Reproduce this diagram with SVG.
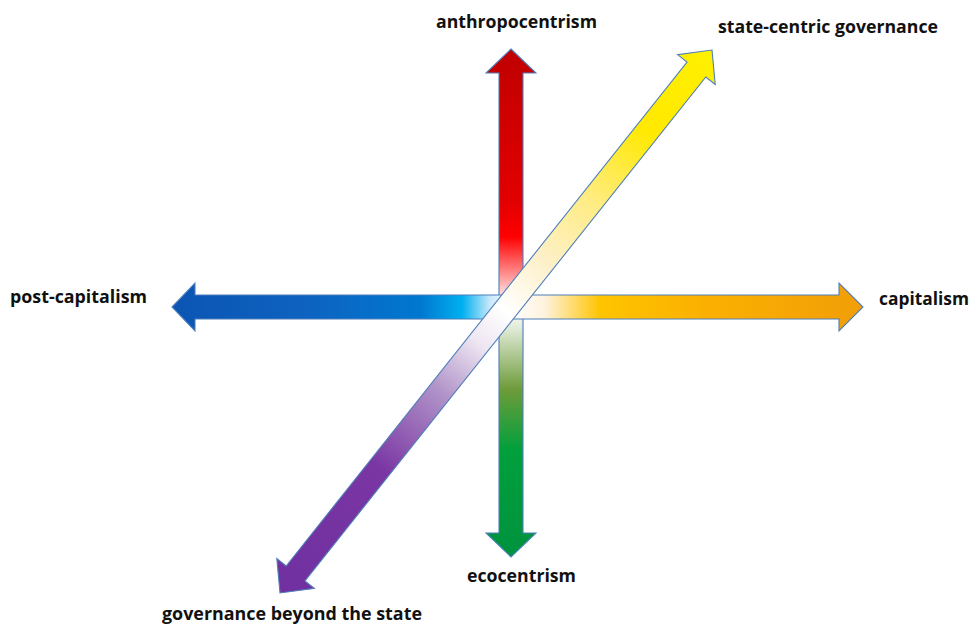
<svg xmlns="http://www.w3.org/2000/svg" width="972" height="624" viewBox="0 0 972 624">
  <defs>
    <linearGradient id="gV" gradientUnits="userSpaceOnUse" x1="0" y1="49" x2="0" y2="557">
      <stop offset="0" stop-color="#C00000"/>
      <stop offset="0.30" stop-color="#E20000"/>
      <stop offset="0.37" stop-color="#FF0000"/>
      <stop offset="0.47" stop-color="#FFC4C4"/>
      <stop offset="0.51" stop-color="#FFFFFF"/>
      <stop offset="0.55" stop-color="#E0EAD6"/>
      <stop offset="0.67" stop-color="#6E9B3A"/>
      <stop offset="0.79" stop-color="#00A03C"/>
      <stop offset="1" stop-color="#00923E"/>
    </linearGradient>
    <linearGradient id="gH" gradientUnits="userSpaceOnUse" x1="172" y1="0" x2="863" y2="0">
      <stop offset="0" stop-color="#0B55B3"/>
      <stop offset="0.19" stop-color="#0E62C0"/>
      <stop offset="0.36" stop-color="#0078D0"/>
      <stop offset="0.42" stop-color="#00B0F0"/>
      <stop offset="0.46" stop-color="#C8E8FA"/>
      <stop offset="0.49" stop-color="#FFFFFF"/>
      <stop offset="0.54" stop-color="#FEF2DC"/>
      <stop offset="0.62" stop-color="#FFC400"/>
      <stop offset="0.77" stop-color="#FBB000"/>
      <stop offset="1" stop-color="#F19E08"/>
    </linearGradient>
    <linearGradient id="gD" gradientUnits="userSpaceOnUse" x1="280" y1="593" x2="712" y2="50">
      <stop offset="0" stop-color="#7030A0"/>
      <stop offset="0.23" stop-color="#7A36A3"/>
      <stop offset="0.37" stop-color="#B092C8"/>
      <stop offset="0.46" stop-color="#EEE6F2"/>
      <stop offset="0.52" stop-color="#FFFFFF"/>
      <stop offset="0.61" stop-color="#FDF0CA"/>
      <stop offset="0.72" stop-color="#FFEC84"/>
      <stop offset="0.85" stop-color="#FFE900"/>
      <stop offset="1" stop-color="#FFF000"/>
    </linearGradient>
  </defs>
  <style>
    .arrow { stroke: #4F7FBA; stroke-width: 1.1; stroke-linejoin: miter; }
    .lbl { font-family: "Open Sans", "Liberation Sans", sans-serif; font-weight: bold; font-size: 17px; fill: #111111; }
  </style>
  <rect width="972" height="624" fill="#FFFFFF"/>
  <g id="connectors">
    <polygon id="axis-vertical" class="arrow" fill="url(#gV)" points="511,49 536,73 523,73 523,533 536,533 511,557 486,533 499,533 499,73 486,73"/>
    <polygon id="axis-horizontal" class="arrow" fill="url(#gH)" points="172,307 195,283 195,295 839,295 839,283 863,307 839,331 839,319 195,319 195,331"/>
    <polygon id="axis-diagonal" class="arrow" fill="url(#gD)" points="712,50 715.21,84.5 705.82,77.03 304.96,580.91 314.35,588.38 280,593 276.79,558.5 286.18,565.97 687.04,62.09 677.65,54.62"/>
  </g>
  <g id="label-anthropocentrism"><text class="lbl" x="436" y="28" textLength="161" lengthAdjust="spacingAndGlyphs">anthropocentrism</text></g>
  <g id="label-state-centric"><text class="lbl" x="718" y="33" textLength="220" lengthAdjust="spacingAndGlyphs">state-centric governance</text></g>
  <g id="label-post-capitalism"><text class="lbl" x="10" y="303" textLength="137" lengthAdjust="spacingAndGlyphs">post-capitalism</text></g>
  <g id="label-capitalism"><text class="lbl" x="879" y="305" textLength="90" lengthAdjust="spacingAndGlyphs">capitalism</text></g>
  <g id="label-ecocentrism"><text class="lbl" x="467" y="582" textLength="109" lengthAdjust="spacingAndGlyphs">ecocentrism</text></g>
  <g id="label-governance-beyond"><text class="lbl" x="162" y="620" textLength="260" lengthAdjust="spacingAndGlyphs">governance beyond the state</text></g>
</svg>
